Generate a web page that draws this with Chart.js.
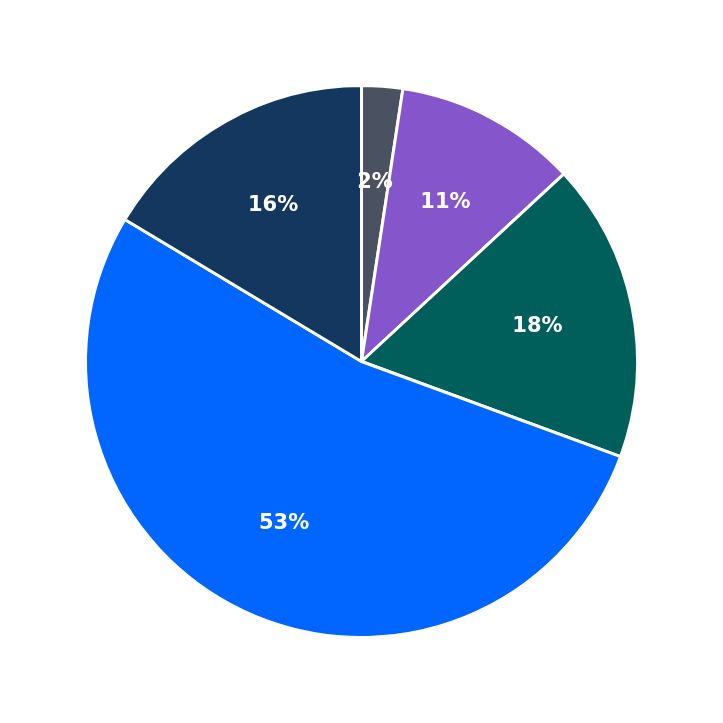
<!DOCTYPE html>
<html>
<head>
<meta charset="utf-8">
<script src="https://cdn.jsdelivr.net/npm/chart.js@4/dist/chart.umd.min.js"></script>
<style>
    html, body { margin: 0; padding: 0; background: #fff; }
    #wrap { width: 723px; height: 723px; }
</style>
</head>
<body>
<div id="wrap"><canvas id="chart"></canvas></div>
<script>
const categories = ['A', 'B', 'C', 'D', 'E'];
const values = [2.4, 10.7, 17.5, 53.0, 16.4];
const colors = ['#4a5261', '#8555cc', '#005f5b', '#0066ff', '#13375f'];

const sliceLabels = {
    id: 'sliceLabels',
    afterDatasetsDraw(chart) {
        const ctx = chart.ctx;
        const total = values.reduce((a, b) => a + b, 0);
        chart.getDatasetMeta(0).data.forEach((arc, i) => {
            const { x, y, startAngle, endAngle, outerRadius } = arc.getProps(['x', 'y', 'startAngle', 'endAngle', 'outerRadius'], true);
            const mid = (startAngle + endAngle) / 2;
            const r = outerRadius * 0.65;
            ctx.save();
            ctx.fillStyle = '#ffffff';
            ctx.font = 'bold 21px "DejaVu Sans"';
            ctx.textAlign = 'center';
            ctx.textBaseline = 'middle';
            ctx.fillText(Math.round(values[i] / total * 100) + '%', x + Math.cos(mid) * r, y + Math.sin(mid) * r);
            ctx.restore();
        });
    },
};

new Chart(document.getElementById('chart').getContext('2d'), {
    type: 'pie',
    data: {
        labels: categories,
        datasets: [
            {
                data: values,
                backgroundColor: colors,
                borderColor: '#ffffff',
                borderWidth: 3,
            },
        ],
    },
    options: {
        responsive: true,
        maintainAspectRatio: false,
        animation: false,
        layout: { padding: 84 },
        plugins: {
            legend: { display: false },
            tooltip: { enabled: false },
        },
    },
    plugins: [sliceLabels],
});
</script>
</body>
</html>
